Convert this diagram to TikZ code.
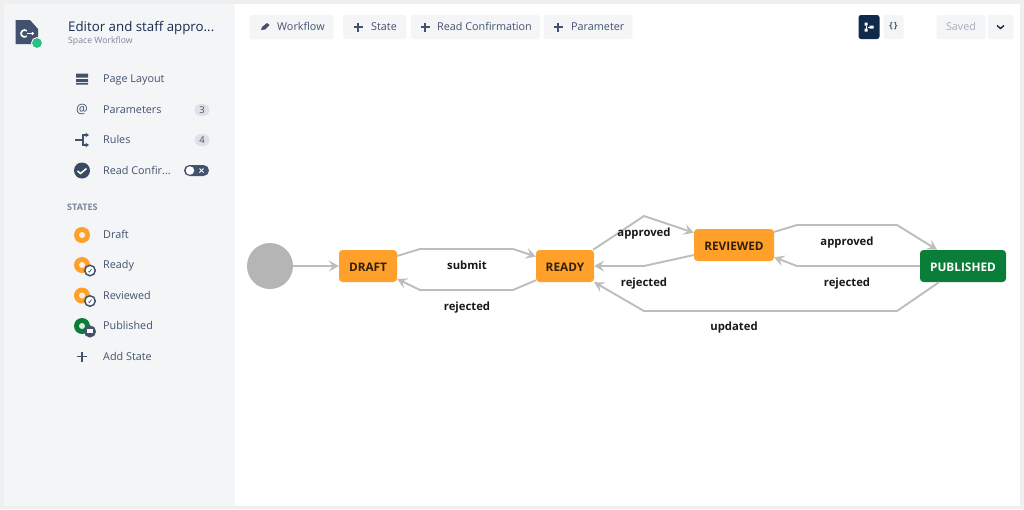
\documentclass[tikz,border=0pt]{standalone}
\usepackage{fontspec}
\setmainfont{Open Sans}
\usetikzlibrary{arrows.meta,calc}
\definecolor{pagegray}{HTML}{EFEFEF}
\definecolor{sidebg}{HTML}{F4F5F7}
\definecolor{btnbg}{HTML}{F4F5F7}
\definecolor{navy}{HTML}{172B4D}
\definecolor{slate}{HTML}{42526E}
\definecolor{mutegray}{HTML}{7A869A}
\definecolor{edgegray}{HTML}{BDBDBD}
\definecolor{orangest}{HTML}{FFA02B}
\definecolor{greenst}{HTML}{0A7D39}
\definecolor{startgray}{HTML}{B5B5B5}
\definecolor{badgebg}{HTML}{DFE1E6}
\definecolor{savedtxt}{HTML}{A5ADBA}
\definecolor{darkbtn}{HTML}{0F2A4A}
\definecolor{teal}{HTML}{2ABF85}
\tikzset{
  state/.style={rectangle,rounded corners=3.5pt,minimum height=32pt,inner sep=0pt,text height=10.5pt,text depth=0pt,font=\fontsize{11.8}{12}\selectfont\bfseries},
  orangebox/.style={state,fill=orangest,text=black!80!orangest},
  greenbox/.style={state,fill=greenst,text=white},
  conn/.style={draw=edgegray,line width=1.9pt,line join=round,-{Stealth[length=10pt,width=11pt,inset=4pt]}},
  elabel/.style={font=\fontsize{11.3}{12}\selectfont\bfseries,text=black!90,inner sep=0pt,text height=11.5pt,text depth=2.7pt},
  navtext/.style={font=\fontsize{10.8}{12}\selectfont,text=slate,anchor=west,inner sep=0pt,text height=10.2pt,text depth=2.6pt},
  btn/.style={rectangle,rounded corners=2.5pt,fill=btnbg,minimum height=24pt,inner sep=0pt},
  btntext/.style={navtext},
  badge/.style={rectangle,rounded corners=5.5pt,fill=badgebg,minimum width=15pt,minimum height=12pt,inner sep=0pt,font=\fontsize{9.5}{10}\selectfont,text=slate},
  ring/.style={circle,fill=#1,minimum size=16pt,inner sep=0pt},
  hole/.style={circle,fill=white!85!#1,minimum size=6pt,inner sep=0pt},
  mini/.style={circle,draw=slate,line width=1.5pt,fill=#1,minimum size=10.5pt,inner sep=0pt},
  plusmark/.style={draw=slate,line width=1.05pt},
}
\begin{document}
\begin{tikzpicture}[x=1pt,y=-1pt]
\useasboundingbox (0,0) rectangle (1024,509);
% page
\fill[pagegray] (0,0) rectangle (1024,509);
\fill[white] (4,4) rectangle (1020,505.5);
\fill[sidebg] (4,4) rectangle (235,505.5);
% header
\fill[slate] (15.5,20) -- (30,20) -- (38,29) -- (38,44) -- (15.5,44) -- cycle;
\draw[white,line width=1.6pt] (24.5,33.5) ++(50:3.5) arc (50:310:3.5);
\draw[white,line width=1.4pt] (27,33.5) -- (33,33.5);
\fill[white] (32.5,33.5) circle (1.6);
\node[circle,fill=teal,draw=white,line width=.8pt,minimum size=11pt,inner sep=0pt] (logobadge) at (37,43) {};
\node[anchor=west,inner sep=0pt,font=\fontsize{13.3}{15}\selectfont,text=navy,text height=12pt,text depth=3pt] (title) at (68,27) {Editor and staff appro...};
\node[anchor=west,inner sep=0pt,font=\fontsize{8.7}{10}\selectfont,text=mutegray,text height=8pt,text depth=2pt] (subtitle) at (68,40.5) {Space Workflow};
% nav
\fill[slate] (76,73.5) rectangle (88,77.5) (76,79) rectangle (88,82) (76,83) rectangle (88,84.5);
\node[navtext] (n1) at (103,79) {Page Layout};
\node[font=\fontsize{13}{13}\selectfont,text=slate,inner sep=0pt] (at) at (82,109.5) {@};
\node[navtext] (n2) at (103,109.5) {Parameters};
\node[badge] (b2) at (202,110) {3};
\draw[slate,line width=1.2pt] (75,140) -- (83,140);
\draw[slate,line width=1.2pt,-{Stealth[length=3.5pt,width=4.5pt]}] (83,140) -- (83,135) -- (89,135);
\draw[slate,line width=1.2pt,-{Stealth[length=3.5pt,width=4.5pt]}] (83,140) -- (83,145) -- (89,145);
\node[navtext] (n3) at (103,140) {Rules};
\node[badge] (b3) at (202,140) {4};
\node[circle,fill=slate!90!black,minimum size=16pt,inner sep=0pt] (chk) at (82,170.5) {};
\draw[white,line width=1.5pt] (77.5,171) -- (80.5,173.5) -- (86.5,168.5);
\node[navtext] (n4) at (103,170.5) {Read Confir...};
\node[rectangle,rounded corners=5.5pt,fill=slate,minimum width=25pt,minimum height=11pt,inner sep=0pt] (tog) at (196.5,170.5) {};
\node[circle,fill=white,minimum size=8.5pt,inner sep=0pt] (togk) at (190,170.5) {};
\draw[white,line width=.9pt] (199.5,168.5) -- (203.5,172.5) (203.5,168.5) -- (199.5,172.5);
% states
\node[anchor=west,inner sep=0pt,font=\fontsize{9}{9}\selectfont\bfseries,text=mutegray] (st) at (67,207) {STATES};
\node[ring=orangest] (r1) at (82,235) {};
\node[hole=orangest] (h1) at (82,235) {};
\node[navtext] (s1) at (103,234.5) {Draft};
\node[ring=orangest] (r2) at (82,265) {};
\node[hole=orangest] (h2) at (82,265) {};
\node[mini=white] (m2) at (90,270.5) {};
\draw[slate,line width=.7pt] (88.5,271) -- (89.5,272) -- (91.5,269);
\node[navtext] (s2) at (103,265) {Ready};
\node[ring=orangest] (r3) at (82,295.5) {};
\node[hole=orangest] (h3) at (82,295.5) {};
\node[mini=white] (m3) at (90,301) {};
\draw[slate,line width=.7pt] (88.5,301.5) -- (89.5,302.5) -- (91.5,299.5);
\node[navtext] (s3) at (103,296) {Reviewed};
\node[ring=greenst] (r4) at (82,326) {};
\node[hole=greenst] (h4) at (82,326) {};
\node[mini=slate] (m4) at (90,331.5) {};
\fill[white] (87,328.5) rectangle (93,332.5);
\node[navtext] (s4) at (103,326) {Published};
\draw[plusmark] (77,356.5) -- (87,356.5) (82,351.5) -- (82,361.5);
\node[navtext] (s5) at (103,357) {Add State};
% toolbar
\node[btn,minimum width=84pt] (t1) at (291.5,27) {};
\fill[slate] (261,30) -- (262,27) -- (267,23) -- (269.5,25) -- (265,29.5) -- cycle;
\node[btntext] at (277,27) {Workflow};
\node[btn,minimum width=63pt] (t2) at (374.5,27) {};
\draw[plusmark] (353.5,27) -- (362.5,27) (358,22.5) -- (358,31.5);
\node[btntext] at (371,27) {State};
\node[btn,minimum width=129pt] (t3) at (475.5,27) {};
\draw[plusmark] (420.5,27) -- (429.5,27) (425,22.5) -- (425,31.5);
\node[btntext] at (437,27) {Read Confirmation};
\node[btn,minimum width=89pt] (t4) at (588,27) {};
\draw[plusmark] (553.5,27) -- (562.5,27) (558,22.5) -- (558,31.5);
\node[btntext] at (571,27) {Parameter};
% right toolbar
\node[btn,minimum width=21pt,fill=darkbtn] (v1) at (869,27) {};
\fill[white] (864.5,22.5) rectangle (867.5,25.5) (864.5,28.5) rectangle (867.5,31.5) (869.5,25.5) rectangle (873.5,28.5);
\draw[white,line width=.6pt] (866,25.5) -- (866,28.5) (867.5,27) -- (869.5,27);
\node[btn,minimum width=20pt] (v2) at (893.5,27) {};
\node[font=\fontsize{8.5}{9}\selectfont\bfseries,text=slate,inner sep=0pt] at (893.5,26.5) {\{\,\}};
\node[btn,minimum width=49pt] (sv) at (961,27) {};
\node[font=\fontsize{10.8}{12}\selectfont,text=savedtxt,inner sep=0pt,text height=10.2pt,text depth=2.6pt] at (961,27) {Saved};
\node[btn,minimum width=26pt] (dd) at (1000.5,27) {};
\draw[navy,line width=1.4pt] (997,25.5) -- (1000.5,28.5) -- (1004,25.5);
% diagram nodes
\node[circle,fill=startgray,minimum size=46pt,inner sep=0pt] (start) at (270,266) {};
\node[orangebox,minimum width=58pt] (draft) at (368,266) {DRAFT};
\node[orangebox,minimum width=58pt] (ready) at (565,266) {READY};
\node[orangebox,minimum width=80pt] (reviewed) at (734,245) {REVIEWED};
\node[greenbox,minimum width=86pt] (published) at (963,266) {PUBLISHED};
% connectors
\draw[conn] (start) -- (draft);
\draw[conn] (draft.19) -- (420,249) -- (513,249) -- (ready.162);
\draw[conn] (ready.206) -- (513,290) -- (420,290) -- (draft.336);
\draw[conn] (ready.30) -- (644,216) -- (reviewed.163);
\draw[conn] (reviewed.194) -- (644,266) -- (ready);
\draw[conn] (reviewed.18) -- (797,225) -- (897,225) -- (published.148);
\draw[conn] (published.west) -- (797,266) -- (reviewed.343);
\draw[conn] (published.214) -- (897,311) -- (644,311) -- (ready.331);
% labels
\node[elabel] (l1) at (467,265) {submit};
\node[elabel] (l2) at (467,306) {rejected};
\node[elabel] (l3) at (644,232) {approved};
\node[elabel] (l4) at (644,282.5) {rejected};
\node[elabel] (l5) at (847,241) {approved};
\node[elabel] (l6) at (847,282.5) {rejected};
\node[elabel] (l7) at (734,326.5) {updated};
\end{tikzpicture}
\end{document}
